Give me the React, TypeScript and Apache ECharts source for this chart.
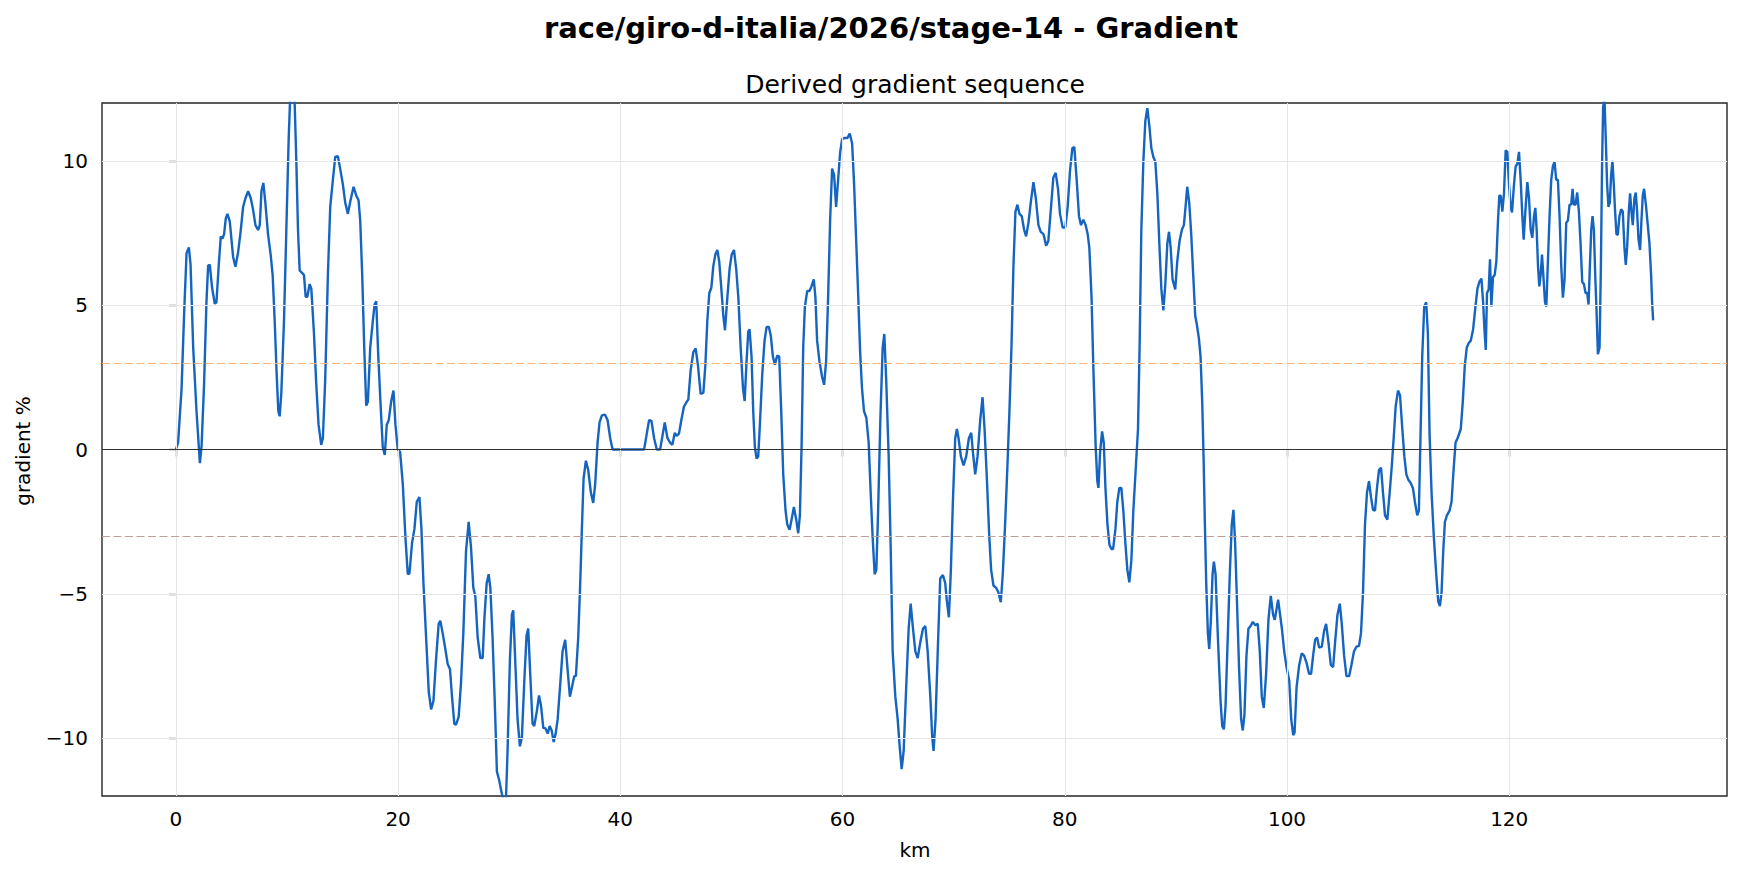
import React, { useEffect, useRef } from "react";
import * as echarts from "echarts";

const TITLE = "race/giro-d-italia/2026/stage-14 - Gradient";
const SUBTITLE = "Derived gradient sequence";
const X_LABEL = "km";
const Y_LABEL = "gradient %";

const xTicks = [0, 20, 40, 60, 80, 100, 120];
const yTicks = [-10, -5, 0, 5, 10];
const thresholds = [3, -3];

// distance along the stage (km)
const km = [
  0, 0.2, 0.51, 0.75, 0.96, 1.17, 1.32, 1.56, 1.86, 2.16, 2.31, 2.54, 2.75, 2.9, 3.05, 3.26, 3.5, 3.65, 3.86, 4.04,
  4.19, 4.34, 4.49, 4.64, 4.85, 5.15, 5.36, 5.6, 5.84, 6.05, 6.26, 6.5, 6.74, 6.95, 7.16, 7.4, 7.55, 7.7, 7.87, 8.05,
  8.29, 8.53, 8.71, 8.89, 9.07, 9.22, 9.34, 9.49, 9.73, 9.94, 10.15, 10.27, 10.48, 10.69, 10.84, 10.99, 11.14, 11.35, 11.53, 11.68,
  11.83, 12.04, 12.19, 12.43, 12.63, 12.84, 13.08, 13.23, 13.44, 13.68, 13.89, 14.13, 14.34, 14.58, 14.82, 15.03, 15.24, 15.48, 15.7, 15.99,
  16.23, 16.44, 16.59, 16.77, 16.95, 17.13, 17.28, 17.49, 17.73, 17.88, 18.03, 18.2, 18.41, 18.62, 18.8, 18.98, 19.16, 19.37, 19.58, 19.76,
  19.97, 20.18, 20.42, 20.66, 20.87, 21.02, 21.26, 21.47, 21.68, 21.92, 22.1, 22.28, 22.52, 22.76, 22.97, 23.18, 23.41, 23.65, 23.8, 24.01,
  24.25, 24.46, 24.67, 24.85, 25.06, 25.21, 25.45, 25.66, 25.87, 26.11, 26.35, 26.56, 26.77, 26.95, 27.16, 27.4, 27.61, 27.76, 27.97, 28.15,
  28.3, 28.5, 28.71, 28.89, 29.1, 29.34, 29.55, 29.7, 29.85, 30.06, 30.24, 30.36, 30.54, 30.75, 30.96, 31.14, 31.35, 31.56, 31.71, 31.89,
  32.1, 32.25, 32.5, 32.68, 32.86, 33.07, 33.25, 33.46, 33.64, 33.82, 34.0, 34.18, 34.36, 34.6, 34.8, 35.04, 35.25, 35.46, 35.64, 35.85,
  36.0, 36.21, 36.39, 36.54, 36.69, 36.9, 37.11, 37.35, 37.56, 37.74, 37.95, 38.13, 38.34, 38.61, 38.85, 39.09, 39.3, 42.14, 42.38, 42.59,
  42.8, 43.04, 43.28, 43.58, 43.79, 44.0, 44.24, 44.48, 44.68, 44.9, 45.07, 45.28, 45.49, 45.73, 45.97, 46.12, 46.33, 46.57, 46.78, 46.99,
  47.23, 47.47, 47.65, 47.83, 48.01, 48.19, 48.37, 48.55, 48.73, 48.9, 49.09, 49.27, 49.42, 49.63, 49.84, 50.02, 50.23, 50.44, 50.62, 50.83,
  51.04, 51.19, 51.34, 51.51, 51.63, 51.81, 51.96, 52.11, 52.26, 52.41, 52.56, 52.77, 52.98, 53.16, 53.37, 53.55, 53.73, 53.91, 54.12, 54.3,
  54.48, 54.66, 54.87, 55.02, 55.23, 55.41, 55.62, 55.83, 56.01, 56.16, 56.31, 56.46, 56.61, 56.82, 57.02, 57.2, 57.41, 57.56, 57.71, 57.92,
  58.16, 58.34, 58.52, 58.7, 58.88, 59.06, 59.24, 59.42, 59.6, 59.78, 59.96, 60.2, 60.44, 60.65, 60.86, 61.04, 61.22, 61.4, 61.58, 61.75,
  61.93, 62.14, 62.35, 62.53, 62.71, 62.89, 63.04, 63.19, 63.4, 63.61, 63.76, 63.94, 64.15, 64.33, 64.51, 64.75, 64.96, 65.14, 65.32, 65.5,
  65.71, 65.95, 66.13, 66.34, 66.55, 66.76, 67.0, 67.24, 67.45, 67.66, 67.9, 68.07, 68.19, 68.37, 68.58, 68.79, 69.03, 69.24, 69.39, 69.57,
  69.75, 69.93, 70.14, 70.29, 70.44, 70.65, 70.89, 71.13, 71.37, 71.58, 71.73, 71.94, 72.15, 72.39, 72.6, 72.78, 72.99, 73.19, 73.37, 73.58,
  73.82, 74.03, 74.24, 74.42, 74.63, 74.84, 75.02, 75.2, 75.38, 75.56, 75.74, 75.92, 76.13, 76.34, 76.52, 76.73, 76.94, 77.18, 77.39, 77.63,
  77.84, 78.08, 78.32, 78.52, 78.73, 78.97, 79.18, 79.39, 79.57, 79.81, 80.05, 80.26, 80.47, 80.68, 80.86, 81.07, 81.28, 81.46, 81.67, 81.88,
  82.06, 82.21, 82.41, 82.56, 82.78, 82.93, 83.03, 83.18, 83.36, 83.51, 83.66, 83.84, 84.02, 84.2, 84.35, 84.56, 84.73, 84.91, 85.09, 85.27,
  85.45, 85.63, 85.81, 85.99, 86.17, 86.38, 86.59, 86.74, 86.89, 87.07, 87.25, 87.43, 87.61, 87.79, 87.97, 88.15, 88.33, 88.51, 88.69, 88.87,
  89.05, 89.23, 89.38, 89.53, 89.7, 89.94, 90.12, 90.33, 90.54, 90.72, 90.87, 91.02, 91.2, 91.38, 91.56, 91.74, 91.89, 92.07, 92.22, 92.37,
  92.49, 92.61, 92.73, 92.88, 93.0, 93.15, 93.3, 93.42, 93.57, 93.78, 94.02, 94.17, 94.32, 94.47, 94.68, 94.85, 95.03, 95.18, 95.33, 95.51,
  95.69, 95.87, 96.02, 96.17, 96.35, 96.53, 96.71, 96.92, 97.13, 97.37, 97.55, 97.73, 97.91, 98.12, 98.33, 98.54, 98.75, 98.9, 99.2, 99.54,
  99.75, 99.96, 100.2, 100.38, 100.56, 100.68, 100.86, 101.1, 101.33, 101.54, 101.75, 101.99, 102.17, 102.35, 102.53, 102.71, 102.89, 103.13, 103.34, 103.52,
  103.73, 103.94, 104.15, 104.33, 104.54, 104.75, 104.93, 105.14, 105.35, 105.59, 105.8, 106.03, 106.25, 106.48, 106.66, 106.84, 107.02, 107.2, 107.38, 107.56,
  107.74, 107.92, 108.1, 108.28, 108.46, 108.64, 108.82, 109.03, 109.24, 109.42, 109.6, 109.78, 109.99, 110.17, 110.38, 110.56, 110.74, 110.92, 111.12, 111.33,
  111.51, 111.72, 111.87, 112.02, 112.17, 112.35, 112.53, 112.68, 112.83, 113.01, 113.22, 113.43, 113.61, 113.76, 113.91, 114.06, 114.21, 114.39, 114.63, 114.81,
  114.99, 115.17, 115.35, 115.64, 115.82, 116.0, 116.18, 116.36, 116.54, 116.75, 116.96, 117.14, 117.32, 117.5, 117.65, 117.77, 117.89, 118.0, 118.15, 118.27,
  118.39, 118.54, 118.69, 118.84, 118.99, 119.11, 119.23, 119.38, 119.53, 119.68, 119.83, 119.98, 120.13, 120.25, 120.43, 120.58, 120.73, 120.88, 121.03, 121.18,
  121.3, 121.45, 121.63, 121.78, 121.93, 122.08, 122.23, 122.35, 122.47, 122.59, 122.71, 122.83, 122.95, 123.07, 123.22, 123.34, 123.48, 123.63, 123.78, 123.93,
  124.08, 124.23, 124.38, 124.53, 124.68, 124.83, 124.98, 125.13, 125.28, 125.43, 125.58, 125.7, 125.82, 125.97, 126.12, 126.27, 126.42, 126.57, 126.72, 126.87,
  127.02, 127.14, 127.26, 127.38, 127.5, 127.62, 127.74, 127.86, 127.98, 128.13, 128.25, 128.36, 128.45, 128.57, 128.69, 128.81, 128.93, 129.05, 129.17, 129.29,
  129.41, 129.53, 129.65, 129.77, 129.92, 130.07, 130.22, 130.37, 130.49, 130.61, 130.76, 130.88, 131.0, 131.12, 131.27, 131.39, 131.51, 131.63, 131.78, 131.9,
  132.02, 132.14, 132.32, 132.47, 132.62, 132.77, 132.86, 132.95,
];

// derived gradient (%)
const gradient = [
  0, 0.24, 2.1, 4.8, 6.8, 7.0, 6.4, 3.5, 1.3, -0.47, 0.1, 2.3, 5.1, 6.36, 6.4, 5.6, 5.05, 5.1, 6.4, 7.38,
  7.3, 7.46, 8.0, 8.16, 7.9, 6.67, 6.33, 6.83, 7.6, 8.4, 8.7, 8.95, 8.7, 8.3, 7.77, 7.6, 7.77, 8.95, 9.23, 8.55,
  7.46, 6.75, 6.04, 4.47, 2.6, 1.33, 1.15, 1.96, 4.47, 7.6, 10.75, 12.04, 12.8, 12.0, 9.97, 7.6, 6.2, 6.12, 6.04, 5.29,
  5.29, 5.73, 5.57, 4.0, 2.28, 0.86, 0.16, 0.39, 2.43, 6.04, 8.4, 9.34, 10.13, 10.16, 9.65, 9.18, 8.55, 8.16, 8.6, 9.1,
  8.8, 8.63, 7.93, 6.04, 3.53, 1.52, 1.65, 3.53, 4.47, 5.02, 5.13, 3.37, 1.65, 0.08, -0.19, 0.86, 1.02, 1.65, 2.04, 0.86,
  0, -0.08, -1.18, -3.06, -4.32, -4.29, -3.22, -2.75, -1.81, -1.65, -2.75, -4.63, -6.51, -8.4, -9.0, -8.71, -7.3, -6.04, -5.93, -6.36,
  -6.91, -7.43, -7.61, -8.56, -9.5, -9.53, -9.26, -8.08, -6.36, -3.53, -2.51, -3.38, -4.79, -5.1, -6.51, -7.22, -7.22, -5.89, -4.63, -4.32,
  -4.79, -6.51, -8.87, -11.15, -11.46, -11.93, -12.3, -12.2, -10.44, -7.3, -5.73, -5.57, -7.3, -9.34, -10.28, -9.97, -8.08, -6.44, -6.2, -7.77,
  -9.5, -9.58, -9.03, -8.52, -8.87, -9.65, -9.65, -9.84, -9.58, -9.73, -10.13, -9.84, -9.34, -8.08, -6.99, -6.59, -7.61, -8.56, -8.24, -7.85,
  -7.85, -6.51, -4.63, -2.75, -1.02, -0.39, -0.71, -1.49, -1.85, -1.18, 0.24, 0.94, 1.18, 1.21, 1.02, 0.39, 0, 0, 0.55, 1.02,
  0.99, 0.39, 0, 0, 0.47, 0.94, 0.39, 0.24, 0.16, 0.58, 0.47, 0.55, 1.02, 1.49, 1.65, 1.73, 2.75, 3.37, 3.5, 2.9,
  1.93, 1.96, 2.9, 4.47, 5.42, 5.6, 6.36, 6.75, 6.91, 6.51, 5.57, 4.63, 4.13, 5.26, 6.28, 6.75, 6.91, 6.2, 5.26, 3.53,
  2.12, 1.68, 2.9, 4.08, 4.16, 3.22, 1.33, 0.08, -0.31, -0.24, 0.86, 2.59, 3.77, 4.24, 4.24, 3.92, 3.22, 2.94, 3.25, 3.22,
  1.33, -0.86, -2.12, -2.59, -2.78, -2.43, -1.99, -2.43, -2.9, -2.28, 0.08, 3.53, 4.95, 5.49, 5.49, 5.65, 5.89, 5.26, 3.77, 3.06,
  2.51, 2.24, 3.06, 5.26, 7.93, 9.73, 9.5, 8.4, 9.34, 10.28, 10.75, 10.79, 10.79, 10.94, 10.6, 9.18, 7.3, 5.42, 3.38, 2.12,
  1.33, 1.1, 0.24, -1.49, -3.06, -4.32, -4.16, -2.28, 1.02, 3.53, 4.0, 2.28, -0.24, -3.38, -6.99, -8.56, -9.34, -10.28, -11.07, -10.44,
  -8.4, -6.2, -5.34, -6.2, -6.99, -7.22, -6.67, -6.2, -6.12, -6.99, -8.56, -9.97, -10.44, -9.34, -6.83, -4.47, -4.35, -4.63, -5.26, -5.81,
  -4.16, -1.81, 0.39, 0.71, 0.39, -0.24, -0.55, -0.24, 0.39, 0.58, -0.08, -0.86, -0.24, 1.02, 1.81, 0.71, -1.02, -2.9, -4.16, -4.71,
  -4.79, -4.95, -5.29, -4.32, -2.59, -0.55, 1.33, 3.53, 6.36, 8.24, 8.48, 8.16, 8.08, 7.61, 7.38, 7.85, 8.56, 9.26, 8.71, 7.77,
  7.54, 7.46, 7.06, 7.22, 8.24, 9.42, 9.58, 9.03, 8.16, 7.69, 7.69, 8.4, 9.65, 10.44, 10.47, 9.34, 8.08, 7.77, 7.96, 7.77,
  7.46, 6.99, 5.26, 3.0, 0.1, -1.1, -1.33, -0.08, 0.63, 0.24, -1.33, -2.59, -3.3, -3.45, -3.45, -2.75, -1.81, -1.33, -1.33, -2.12,
  -3.22, -4.16, -4.6, -3.85, -2.12, -0.71, 0.71, 3.69, 7.61, 9.97, 11.38, 11.82, 11.22, 10.44, 10.13, 9.97, 8.87, 7.14, 5.57, 4.82,
  5.73, 7.14, 7.54, 6.99, 5.89, 5.54, 6.51, 7.22, 7.61, 7.77, 8.4, 9.1, 8.55, 7.46, 6.04, 4.63, 4.32, 3.85, 3.22, 1.65,
  -0.24, -2.59, -4.63, -6.36, -6.91, -5.89, -4.32, -3.88, -4.32, -6.51, -8.71, -9.58, -9.69, -8.87, -6.36, -4.32, -2.59, -2.09, -3.22, -5.42,
  -7.61, -9.34, -9.73, -9.18, -7.14, -6.2, -6.12, -5.97, -6.08, -6.04, -6.99, -8.56, -8.95, -7.77, -5.89, -5.07, -5.73, -5.9, -5.2, -6.2,
  -6.99, -7.54, -8.0, -9.34, -9.89, -9.81, -8.24, -7.46, -7.06, -7.14, -7.38, -7.77, -7.77, -7.14, -6.59, -6.51, -6.86, -6.83, -6.28, -6.04,
  -6.67, -7.46, -7.54, -6.67, -5.73, -5.34, -6.04, -7.14, -7.85, -7.85, -7.46, -6.99, -6.83, -6.8, -6.36, -4.95, -2.59, -1.49, -1.1, -1.65,
  -2.09, -2.12, -1.33, -0.71, -0.63, -1.49, -2.28, -2.43, -1.49, -0.63, 0.39, 1.49, 2.04, 1.88, 0.71, -0.24, -0.86, -1.05, -1.15, -1.33,
  -1.81, -2.28, -2.12, 0.55, 3.22, 4.95, 5.1, 4.0, 0.55, -1.49, -3.06, -4.32, -5.26, -5.42, -4.95, -3.53, -2.51, -2.28, -2.12, -1.81,
  -0.71, 0.24, 0.39, 0.71, 1.65, 2.9, 3.53, 3.69, 3.77, 4.16, 4.95, 5.57, 5.81, 5.92, 5.1, 4.16, 3.45, 5.42, 5.54, 6.59,
  4.95, 5.97, 6.04, 6.51, 7.93, 8.79, 8.79, 8.24, 8.87, 10.36, 10.31, 9.18, 8.4, 8.21, 9.18, 9.81, 9.89, 10.31, 9.34, 8.08,
  7.27, 8.24, 9.26, 8.71, 7.61, 7.33, 8.08, 8.37, 7.61, 6.36, 5.65, 6.04, 6.75, 6.04, 5.1, 4.95, 6.51, 8.08, 9.34, 9.81,
  9.97, 9.34, 9.34, 8.08, 6.36, 5.26, 5.89, 7.85, 7.93, 8.48, 8.48, 9.03, 8.48, 8.48, 8.9, 8.24, 7.14, 5.81, 5.73, 5.42,
  5.42, 5.02, 6.36, 7.61, 8.08, 7.61, 6.04, 4.79, 3.3, 3.53, 6.36, 9.97, 11.85, 12.2, 10.75, 9.18, 8.4, 8.55, 9.5, 10.0,
  9.18, 8.24, 7.46, 7.43, 8.08, 8.32, 8.24, 6.99, 6.39, 6.99, 8.24, 8.87, 8.24, 7.77, 8.71, 8.9, 8.24, 7.3, 6.91, 7.93,
  8.79, 9.03, 8.4, 7.77, 7.14, 6.04, 5.1, 4.47,
];

const FONT = '"DejaVu Sans", "Liberation Sans", sans-serif';
const fmtMinus = (v: number) => String(v).replace("-", "\u2212");

export default function App() {
  const ref = useRef<HTMLDivElement>(null);

  useEffect(() => {
    if (!ref.current) return;
    document.body.style.margin = "0";
    document.documentElement.style.overflow = "hidden";
    const chart = echarts.init(ref.current, undefined, { renderer: "svg", width: 1744, height: 875 });
    const n = Math.min(km.length, gradient.length);
    const lineData: [number, number][] = [];
    for (let i = 0; i < n; i++) lineData.push([km[i], gradient[i]]);

    const gridLineData: any[] = [
      ...xTicks.map((v) => ({ xAxis: v })),
      ...yTicks.filter((v) => v !== 0).map((v) => ({ yAxis: v })),
    ];

    const refLineData: any[] = [
      { yAxis: 0, lineStyle: { color: "#333333", width: 1.2, type: "solid" } },
      { yAxis: thresholds[0], lineStyle: { color: "#ffb26e", width: 1.2, type: [8, 3.5] } },
      { yAxis: thresholds[1], lineStyle: { color: "#bb9f98", width: 1.2, type: [8, 3.5] } },
    ];

    chart.setOption({
      animation: false,
      backgroundColor: "#ffffff",
      textStyle: { fontFamily: FONT },
      grid: {
        left: 102,
        right: 17,
        top: 103,
        bottom: 79,
        show: true,
        borderColor: "#262626",
        borderWidth: 1.4,
        backgroundColor: "transparent",
        containLabel: false,
        outerBoundsMode: "none",
      },
      graphic: [
        {
          type: "text",
          x: 891,
          y: 28,
          style: {
            text: TITLE,
            align: "center",
            verticalAlign: "middle",
            font: `bold 29px ${FONT}`,
            fill: "#000000",
          },
        },
        {
          type: "text",
          x: 915,
          y: 84,
          style: {
            text: SUBTITLE,
            align: "center",
            verticalAlign: "middle",
            font: `25px ${FONT}`,
            fill: "#000000",
          },
        },
        {
          type: "text",
          x: 915,
          y: 850,
          style: {
            text: X_LABEL,
            align: "center",
            verticalAlign: "middle",
            font: `20px ${FONT}`,
            fill: "#000000",
          },
        },
        {
          type: "text",
          x: 23,
          y: 451,
          rotation: Math.PI / 2,
          style: {
            text: Y_LABEL,
            align: "center",
            verticalAlign: "middle",
            font: `20px ${FONT}`,
            fill: "#000000",
          },
        },
      ],
      xAxis: {
        type: "value",
        min: -6.65,
        max: 139.6,
        axisLine: { show: false },
        splitLine: { show: false },
        axisTick: {
          show: true,
          length: 7,
          customValues: xTicks,
          lineStyle: { color: "#262626", width: 1.3 },
        },
        axisLabel: {
          show: true,
          customValues: xTicks,
          margin: 13,
          fontSize: 20,
          fontFamily: FONT,
          color: "#000000",
          formatter: (v: number) => fmtMinus(v),
        },
      },
      yAxis: {
        type: "value",
        min: -12,
        max: 12,
        axisLine: { show: false },
        splitLine: { show: false },
        axisTick: {
          show: true,
          length: 7,
          customValues: yTicks,
          lineStyle: { color: "#262626", width: 1.3 },
        },
        axisLabel: {
          show: true,
          customValues: yTicks,
          margin: 14,
          fontSize: 20,
          fontFamily: FONT,
          color: "#000000",
          formatter: (v: number) => fmtMinus(v),
        },
      },
      series: [
        {
          type: "line",
          name: "grid",
          data: [],
          z: 1,
          silent: true,
          markLine: {
            silent: true,
            symbol: "none",
            label: { show: false },
            lineStyle: { color: "#e6e6e6", width: 1.1, type: "solid" },
            data: gridLineData,
          },
        },
        {
          type: "line",
          name: "refs",
          data: [],
          z: 2,
          silent: true,
          markLine: {
            silent: true,
            symbol: "none",
            label: { show: false },
            data: refLineData,
          },
        },
        {
          type: "line",
          name: "gradient",
          data: lineData,
          z: 3,
          showSymbol: false,
          symbol: "none",
          clip: true,
          lineStyle: { color: "#1565c0", width: 2.4 },
        },
      ],
    });

    return () => chart.dispose();
  }, []);

  return (
    <div
      ref={ref}
      style={{ position: "absolute", left: 0, top: 0, width: 1744, height: 875 }}
    />
  );
}
